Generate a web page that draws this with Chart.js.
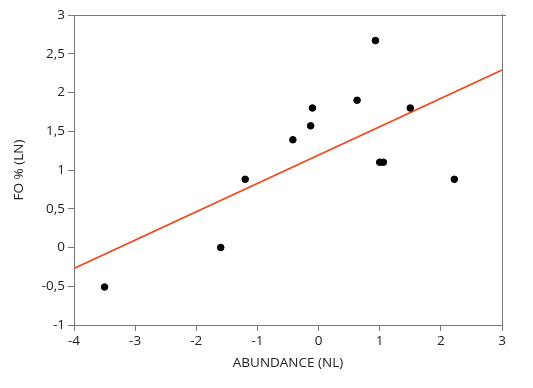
<!DOCTYPE html>
<html><head><meta charset="utf-8">
<script src="https://cdn.jsdelivr.net/npm/chart.js@4/dist/chart.umd.min.js"></script>
<style>html,body{margin:0;padding:0;background:#fff}#wrap{width:533px;height:388px}</style>
</head><body><div id="wrap"><canvas id="c" width="533" height="388"></canvas></div>
<script>
const abundance = [-3.50, -1.60, -1.20, -0.42, -0.13, -0.10, 0.63, 0.93, 1.00, 1.06, 1.50, 2.22];
const foPercent = [-0.51, 0.00, 0.88, 1.39, 1.57, 1.80, 1.90, 2.67, 1.10, 1.10, 1.80, 0.88];
const fitX = [-4, 3];
const fitY = [-0.27, 2.29];
const xTicks = [-4, -3, -2, -1, 0, 1, 2, 3];
const yTicks = [-1, -0.5, 0, 0.5, 1, 1.5, 2, 2.5, 3];

const fmt = v => String(v).replace('.', ',');
const gray = '#777';
const boxPlugin = {
  id: 'box',
  afterDraw(chart) {
    const a = chart.chartArea, ctx = chart.ctx;
    ctx.save();
    ctx.strokeStyle = gray; ctx.lineWidth = 1;
    ctx.beginPath();
    ctx.moveTo(a.left, a.top + 0.5); ctx.lineTo(a.right + 4, a.top + 0.5);
    ctx.moveTo(a.right + 0.5, a.top - 1); ctx.lineTo(a.right + 0.5, a.bottom + 6);
    ctx.stroke();
    ctx.restore();
  }
};

new Chart(document.getElementById('c'), {
  data: {
    datasets: [
      { type: 'scatter', data: abundance.map((x, i) => ({x, y: foPercent[i]})),
        backgroundColor: '#000', borderColor: '#000', pointRadius: 3.3, pointHoverRadius: 3.3, order: 1 },
      { type: 'line', data: fitX.map((x, i) => ({x, y: fitY[i]})),
        borderColor: '#ee4b20', borderWidth: 1.6, pointRadius: 0, fill: false, order: 2 }
    ]
  },
  options: {
    responsive: false, animation: false,
    layout: { padding: { top: 15, right: 31, left: 11, bottom: 17 } },
    plugins: { legend: { display: false }, tooltip: { enabled: false } },
    scales: {
      x: {
        type: 'linear', min: -4, max: 3,
        afterBuildTicks: s => { s.ticks = xTicks.map(v => ({value: v})); },
        afterFit: s => { s.height = 46; },
        border: { display: true, color: gray, width: 1 },
        grid: { display: true, drawOnChartArea: false, drawTicks: true, tickLength: 6, color: gray },
        ticks: { color: '#222', font: { family: 'Open Sans', size: 13.5 }, padding: 2, callback: v => fmt(v), maxRotation: 0 },
        title: { display: true, text: 'ABUNDANCE (NL)', color: '#222', font: { family: 'Open Sans', size: 13.5 }, padding: 0 }
      },
      y: {
        type: 'linear', min: -1, max: 3,
        afterBuildTicks: s => { s.ticks = yTicks.map(v => ({value: v})); },
        afterFit: s => { s.width = 63; },
        border: { display: true, color: gray, width: 1 },
        grid: { display: true, drawOnChartArea: false, drawTicks: true, tickLength: 6, color: gray },
        ticks: { color: '#222', font: { family: 'Open Sans', size: 13.5 }, padding: 3, callback: v => fmt(v) },
        title: { display: true, text: 'FO % (LN)', color: '#222', font: { family: 'Open Sans', size: 13.5 }, padding: 0 }
      }
    }
  },
  plugins: [boxPlugin]
});
</script></body></html>
